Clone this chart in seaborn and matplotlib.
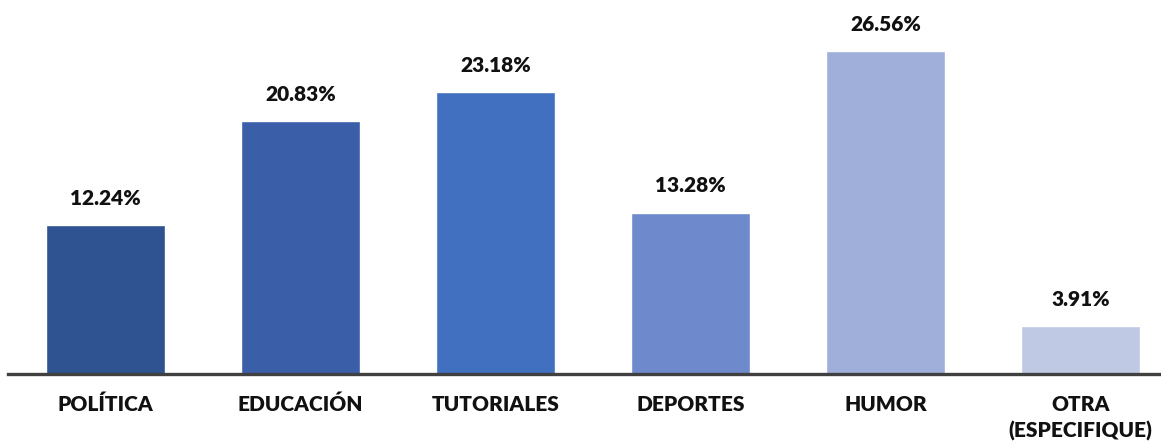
import matplotlib
matplotlib.use("Agg")
import matplotlib.pyplot as plt
import seaborn as sns
import pandas as pd

categories = ["POLÍTICA", "EDUCACIÓN", "TUTORIALES", "DEPORTES", "HUMOR", "OTRA\n(ESPECIFIQUE)"]
values = [12.24, 20.83, 23.18, 13.28, 26.56, 3.91]
colors = ["#2F5290", "#3A5FA8", "#4270C0", "#6F8ACC", "#9FAFDA", "#BFC9E4"]

sns.set_theme(style="white")
plt.rcParams["font.family"] = ["Lato", "DejaVu Sans"]

df = pd.DataFrame({"cat": categories, "val": values})

fig = plt.figure(figsize=(11.61, 4.44), dpi=100)
ax = fig.add_axes([8 / 1161, 70 / 444, 1 - 8 / 1161, 374 / 444])

sns.barplot(data=df, x="cat", y="val", hue="cat", palette=colors,
            width=0.61, saturation=1, legend=False, ax=ax)

for i, v in enumerate(values):
    ax.text(i, v + 1.4, f"{v:.2f}%", ha="center", va="bottom",
            fontsize=15, fontweight="heavy", color="#111111")

ax.set_xlim(-0.5, -0.5 + 1153 / 195)
ax.set_ylim(0, 374 / 12.16)
ax.set_xlabel("")
ax.set_ylabel("")
ax.set_yticks([])
for s in ["top", "right", "left"]:
    ax.spines[s].set_visible(False)
ax.spines["bottom"].set_color("#404040")
ax.spines["bottom"].set_linewidth(2.4)
ax.tick_params(axis="x", length=0, pad=15)
ax.set_xticks(range(len(categories)))
ax.set_xticklabels(categories, fontsize=15, fontweight="heavy", color="#111111",
                   va="top", linespacing=1.45)

fig.savefig("out.png", dpi=100)
